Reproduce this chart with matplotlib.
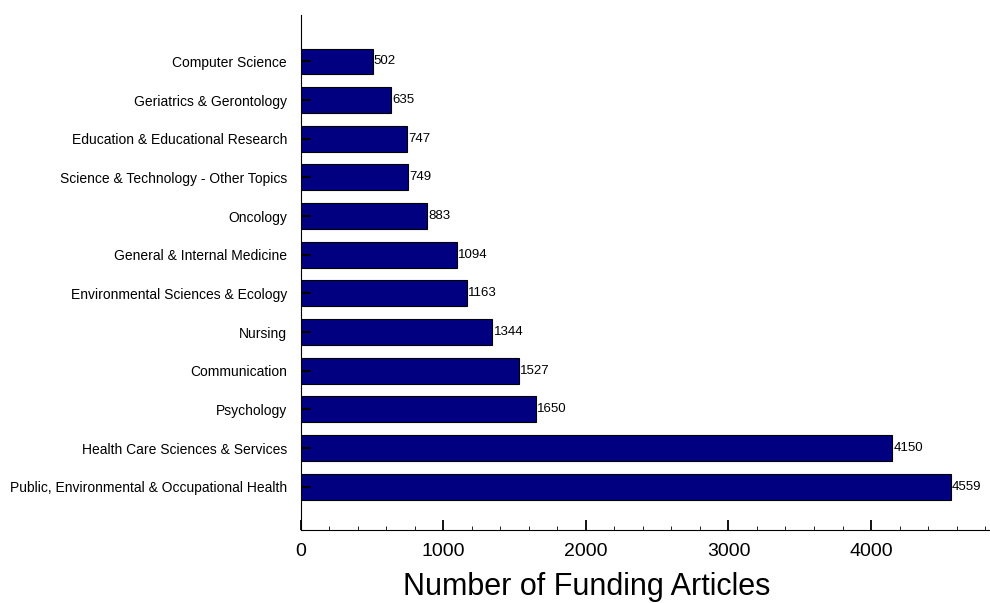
import matplotlib.pyplot as plt
from matplotlib.ticker import MultipleLocator

plt.rcParams['font.family'] = ['Liberation Sans', 'DejaVu Sans']

categories = ['Public, Environmental & Occupational Health', 'Health Care Sciences & Services',
              'Psychology', 'Communication', 'Nursing', 'Environmental Sciences & Ecology',
              'General & Internal Medicine', 'Oncology', 'Science & Technology - Other Topics',
              'Education & Educational Research', 'Geriatrics & Gerontology', 'Computer Science']
counts = [4559, 4150, 1650, 1527, 1344, 1163, 1094, 883, 749, 747, 635, 502]

fig = plt.figure(figsize=(9.9, 6.03), dpi=100)
ax = fig.add_axes([0.304, 0.121, 0.696, 0.854])

y = range(len(categories))
bars = ax.barh(y, counts, height=0.67, color='#000080', edgecolor='black', linewidth=0.8)

for bar in bars:
    w = bar.get_width()
    ax.text(w + 8, bar.get_y() + bar.get_height() / 2, f'{w:.0f}',
            ha='left', va='center', fontsize=9.5)

ax.set_yticks(list(y), labels=categories, fontsize=10)
ax.set_xlim(0, 4835)
ax.set_ylim(-1.12, 12.2)
ax.xaxis.set_major_locator(MultipleLocator(1000))
ax.xaxis.set_minor_locator(MultipleLocator(200))
ax.tick_params(axis='x', which='major', direction='in', length=7, width=1.3, labelsize=14, pad=9)
ax.tick_params(axis='x', which='minor', direction='in', length=3)
ax.tick_params(axis='y', direction='in', length=7, width=1.5, pad=10)
ax.set_xlabel('Number of Funding Articles', fontsize=22, va='center')
ax.xaxis.set_label_coords(0.415, -0.11)

for s in ['top', 'right']:
    ax.spines[s].set_visible(False)

plt.savefig('out.png', facecolor='white', dpi=100)
